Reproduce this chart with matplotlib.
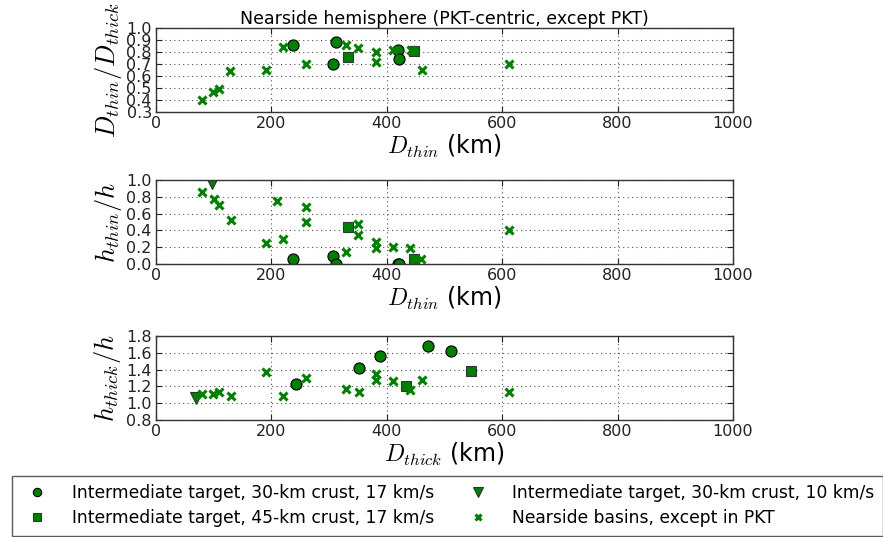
import matplotlib
matplotlib.use("Agg")
import matplotlib.pyplot as plt

plt.rcParams['mathtext.fontset'] = 'cm'
plt.rcParams['font.family'] = ['DejaVu Sans']

title = "Nearside hemisphere (PKT-centric, except PKT)"
labels = ["Intermediate target, 30-km crust, 17 km/s",
          "Intermediate target, 45-km crust, 17 km/s",
          "Intermediate target, 30-km crust, 10 km/s",
          "Nearside basins, except in PKT"]

# Panel 1: D_thin/D_thick vs D_thin
p1_circ_x = [238, 306, 312, 420, 422]
p1_circ_y = [0.855, 0.70, 0.88, 0.815, 0.74]
p1_sq_x = [333, 447]
p1_sq_y = [0.76, 0.81]
p1_tri_x = []
p1_tri_y = []
p1_bas_x = [80, 99, 109, 129, 190, 220, 260, 330, 350, 381, 381, 410, 442, 461, 611]
p1_bas_y = [0.40, 0.47, 0.495, 0.645, 0.65, 0.84, 0.70, 0.86, 0.83, 0.80, 0.715, 0.815, 0.82, 0.65, 0.70]

# Panel 2: h_thin/h vs D_thin
p2_circ_x = [238, 306, 312, 420, 422]
p2_circ_y = [0.06, 0.095, 0.0, 0.0, 0.0]
p2_sq_x = [333, 447]
p2_sq_y = [0.44, 0.065]
p2_tri_x = [97]
p2_tri_y = [0.96]
p2_bas_x = [79, 100, 110, 130, 190, 210, 220, 260, 260, 330, 350, 350, 381, 381, 410, 441, 460, 611]
p2_bas_y = [0.857, 0.77, 0.70, 0.52, 0.25, 0.746, 0.30, 0.675, 0.50, 0.14, 0.48, 0.34, 0.265, 0.195, 0.20, 0.195, 0.065, 0.405]

# Panel 3: h_thick/h vs D_thick
p3_circ_x = [242, 352, 388, 472, 512]
p3_circ_y = [1.224, 1.42, 1.56, 1.686, 1.62]
p3_sq_x = [434, 546]
p3_sq_y = [1.21, 1.385]
p3_tri_x = [70]
p3_tri_y = [1.065]
p3_bas_x = [80, 99, 110, 130, 190, 220, 260, 330, 351, 381, 381, 411, 441, 461, 611]
p3_bas_y = [1.106, 1.106, 1.13, 1.09, 1.37, 1.08, 1.30, 1.17, 1.133, 1.353, 1.28, 1.267, 1.153, 1.274, 1.13]

panels = [
    dict(circ=(p1_circ_x, p1_circ_y), sq=(p1_sq_x, p1_sq_y), tri=(p1_tri_x, p1_tri_y),
         bas=(p1_bas_x, p1_bas_y), ylim=(0.3, 1.0), yticks=[0.3, 0.4, 0.5, 0.6, 0.7, 0.8, 0.9, 1.0],
         ylabel=r"$D_{thin}/D_{thick}$", xlabel=r"$D_{thin}$ (km)", ylsize=19),
    dict(circ=(p2_circ_x, p2_circ_y), sq=(p2_sq_x, p2_sq_y), tri=(p2_tri_x, p2_tri_y),
         bas=(p2_bas_x, p2_bas_y), ylim=(0.0, 1.0), yticks=[0.0, 0.2, 0.4, 0.6, 0.8, 1.0],
         ylabel=r"$h_{thin}/h$", xlabel=r"$D_{thin}$ (km)", ylsize=19),
    dict(circ=(p3_circ_x, p3_circ_y), sq=(p3_sq_x, p3_sq_y), tri=(p3_tri_x, p3_tri_y),
         bas=(p3_bas_x, p3_bas_y), ylim=(0.8, 1.8), yticks=[0.8, 1.0, 1.2, 1.4, 1.6, 1.8],
         ylabel=r"$h_{thick}/h$", xlabel=r"$D_{thick}$ (km)", ylsize=19),
]

W, H = 883, 537
fig = plt.figure(figsize=(W / 100, H / 100), dpi=100)
fig.patch.set_facecolor('white')

left = 156 / W
width = (733 - 156) / W
tops = [28, 180, 336]
h = 84 / H
green = '#008000'

handles = None
for i, (p, top) in enumerate(zip(panels, tops)):
    ax = fig.add_axes([left, 1 - (top + 84) / H, width, h])
    hc, = ax.plot(*p['circ'], 'o', color=green, mec='black', mew=0.8, ms=8, ls='none')
    hs, = ax.plot(*p['sq'], 's', color=green, mec='#333333', mew=0.8, ms=7.5, ls='none')
    ht, = ax.plot(*p['tri'], 'v', color=green, mec='#333333', mew=0.8, ms=9, ls='none')
    hb, = ax.plot(*p['bas'], 'x', color=green, mew=2.2, ms=6, ls='none')
    handles = [hc, hs, ht, hb]
    ax.set_xlim(0, 1000)
    ax.set_ylim(*p['ylim'])
    ax.set_xticks([0, 200, 400, 600, 800, 1000])
    ax.set_yticks(p['yticks'])
    ax.grid(True, ls=(0, (1, 3)), color='#555555', lw=0.8)
    ax.tick_params(direction='in', top=True, right=True, labelsize=11.5, length=4, width=0.8,
                   pad=3, colors='#222222')
    for s in ax.spines.values():
        s.set_linewidth(1.0)
        s.set_color('#333333')
    ax.set_ylabel(p['ylabel'], fontsize=p['ylsize'], labelpad=2)
    ax.set_xlabel(p['xlabel'], fontsize=17, labelpad=1)
    if i == 0:
        ax.set_title(title, fontsize=12.5, pad=3)

leg = fig.legend(handles, labels, loc='lower center', bbox_to_anchor=(0.5068, -0.004), ncol=2,
                 numpoints=1, fontsize=12.3, frameon=True, fancybox=False, edgecolor='#333333',
                 borderpad=0.5, labelspacing=0.4, columnspacing=1.6, handletextpad=1.0,
                 handlelength=2.0, markerscale=0.75, borderaxespad=0.2)
leg.get_frame().set_linewidth(1.0)

fig.savefig("out.png", dpi=100, facecolor='white')
